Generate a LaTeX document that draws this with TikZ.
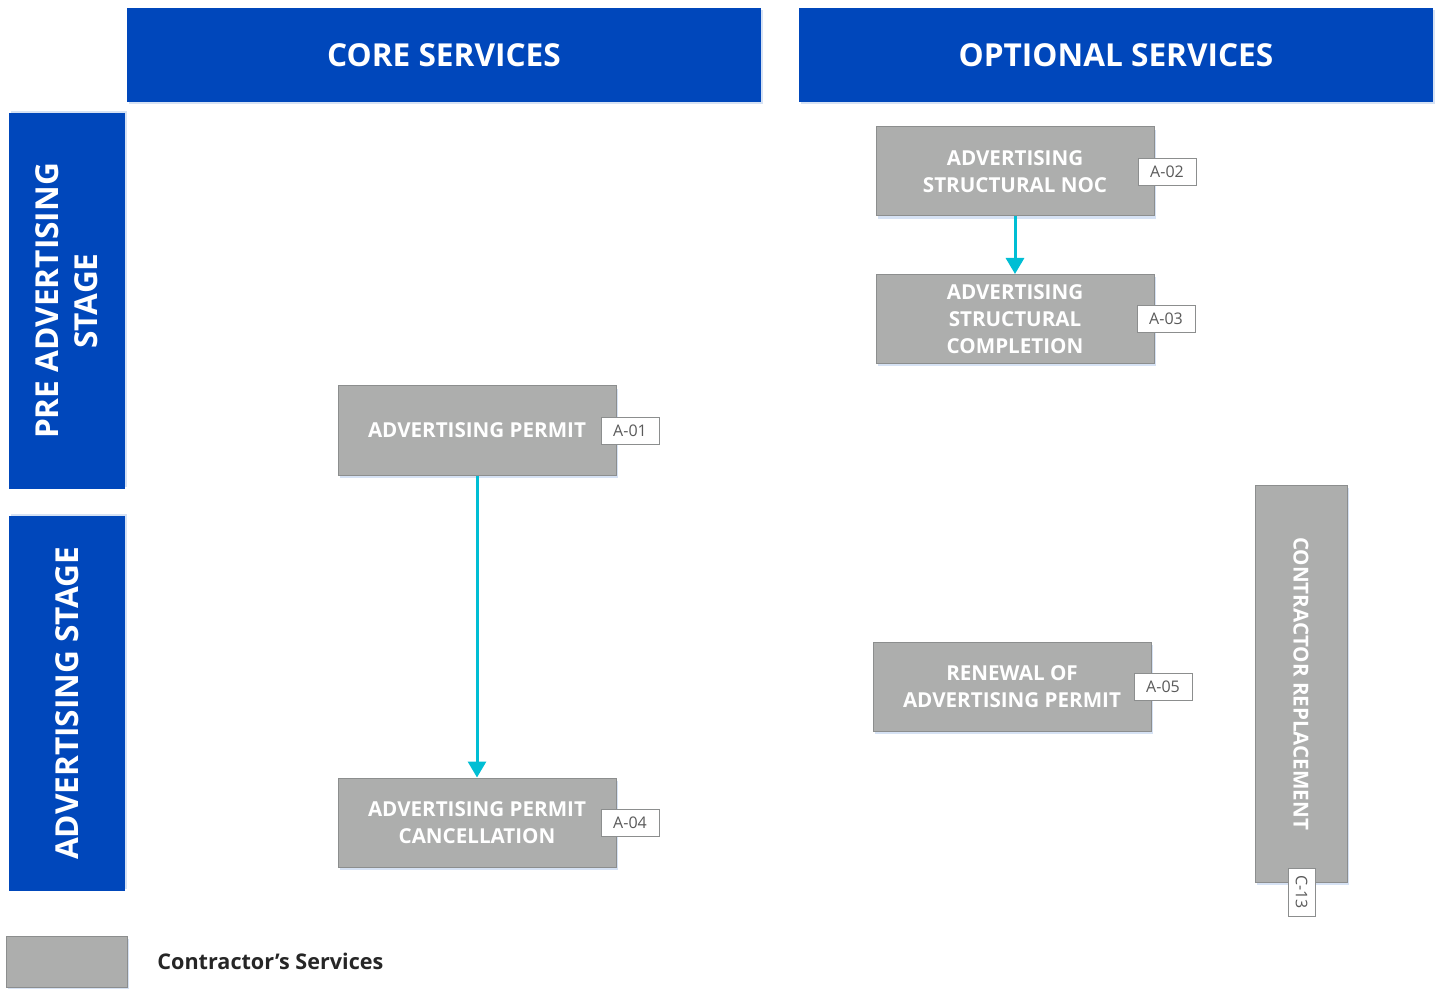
\documentclass[tikz,border=0pt]{standalone}
\usepackage{fontspec}
\setmainfont{Open Sans}
\usetikzlibrary{arrows.meta,shadows}
\definecolor{headblue}{RGB}{0,71,187}
\definecolor{svcgray}{RGB}{173,174,173}
\definecolor{svcline}{RGB}{140,142,142}
\definecolor{flowcyan}{RGB}{0,190,212}
\definecolor{tagtext}{RGB}{90,90,90}
\definecolor{shade}{RGB}{214,226,244}
\tikzset{
  head/.style={fill=headblue,draw=none,text=white,font=\bfseries\fontsize{15.8}{18}\selectfont,
    minimum width=317pt,minimum height=47pt,inner sep=0pt,
    drop shadow={shadow xshift=.8pt,shadow yshift=-1.2pt,fill=shade,opacity=1}},
  stagebox/.style={fill=headblue,draw=none,text=white,font=\bfseries\fontsize{15.8}{19.5}\selectfont,
    minimum height=58pt,inner sep=0pt,rotate=90,align=center,
    drop shadow={shadow xshift=1.2pt,shadow yshift=.8pt,fill=shade,opacity=1}},
  svcbox/.style={fill=svcgray,draw=svcline,line width=.5pt,text=white,
    font=\bfseries\fontsize{10.3}{13.5}\selectfont,align=center,
    minimum width=139pt,minimum height=44.5pt,inner sep=0pt,
    drop shadow={shadow xshift=.8pt,shadow yshift=-1.5pt,fill=shade,opacity=1}},
  tagbox/.style={fill=white,draw=svcline,line width=.4pt,text=tagtext,
    font=\fontsize{8}{9}\selectfont,minimum width=29pt,minimum height=13.5pt,inner sep=0pt},
  flow/.style={draw=flowcyan,line width=1.5pt,-{Triangle[width=9pt,length=8pt]}}
}
\begin{document}
\begin{tikzpicture}[x=0.5pt,y=-0.5pt]
\useasboundingbox (0,0) rectangle (1440,989);

% column and row headings
\node[head] (core) at (444,55) {CORE SERVICES};
\node[head] (opt) at (1116,55) {OPTIONAL SERVICES};
\node[stagebox,minimum width=188pt] (pre) at (67,301) {PRE ADVERTISING\\STAGE};
\node[stagebox,minimum width=187.5pt] (adv) at (67,703.5) {ADVERTISING STAGE};

% services
\node[svcbox] (a01) at (477,430.5) {ADVERTISING PERMIT};
\node[tagbox] (t01) at (630,430.5) {A-01};
\node[svcbox] (a04) at (477,822.5) {ADVERTISING PERMIT\\CANCELLATION};
\node[tagbox] (t04) at (630,822.5) {A-04};
\node[svcbox] (a02) at (1015,171.5) {ADVERTISING\\STRUCTURAL NOC};
\node[tagbox] (t02) at (1167,171.5) {A-02};
\node[svcbox] (a03) at (1015,319) {ADVERTISING\\STRUCTURAL\\COMPLETION};
\node[tagbox] (t03) at (1166,318.5) {A-03};
\node[svcbox] (a05) at (1012,686.5) {RENEWAL OF\\ADVERTISING PERMIT};
\node[tagbox] (t05) at (1163,686.5) {A-05};
\node[svcbox,minimum width=198.5pt,minimum height=46pt,rotate=-90] (c13) at (1301,683.5) {CONTRACTOR REPLACEMENT};
\node[tagbox,minimum width=24pt,minimum height=13.5pt,rotate=-90] (t13) at (1301.5,892) {C-13};

% flows
\draw[flow] (a01) -- (a04);
\draw[flow] (a02) -- (a03);

% legend
\node[svcbox,minimum width=60.5pt,minimum height=25.5pt] (key) at (66.5,961.5) {};
\node[anchor=west,text=black!85,font=\bfseries\fontsize{10.8}{14}\selectfont,inner sep=0pt] (keytext) at (157,961) {Contractor’s Services};
\end{tikzpicture}
\end{document}
